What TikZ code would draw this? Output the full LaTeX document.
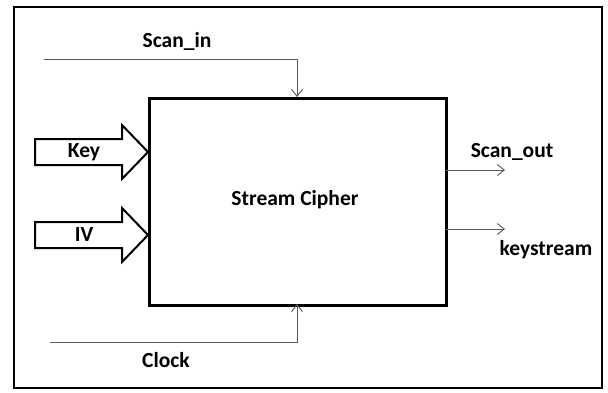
\documentclass[tikz,border=0pt]{standalone}
\usepackage{fontspec}
\setmainfont{Carlito}
\usetikzlibrary{arrows.meta}
\begin{document}
\begin{tikzpicture}[x=1pt,y=-1pt,
  lbl/.style={font=\fontsize{21.5}{25}\selectfont\bfseries, inner sep=0pt, text=black},
  thinarrow/.style={draw=black!65, line width=0.9pt, -{Straight Barb[length=7pt,width=11pt]}},
  frame/.style={draw=black, line width=2.8pt},
  blockarrow/.style={draw=black, line width=2pt, fill=white, line join=miter}]
\useasboundingbox (0,0) rectangle (608,392);
\fill[white] (0,0) rectangle (608,392);
\draw[frame] (14,7) rectangle (602,388);
\node[frame, minimum width=297pt, minimum height=207pt, inner sep=0pt, anchor=north west] (sc) at (148,97) {};
\node[lbl] (sclabel) at (295,200) {Stream Cipher};
% Scan_in
\coordinate (sin) at (44,59);
\coordinate (sintop) at (297,97);
\draw[thinarrow] (sin) -| (sintop);
\node[lbl] (scanin) at (177,41) {Scan\_in};
% Clock
\coordinate (clk) at (50,342);
\coordinate (clkbot) at (297,304);
\draw[thinarrow] (clk) -| (clkbot);
\node[lbl] (clock) at (166,360) {Clock};
% outputs
\coordinate (so) at (445,170);
\coordinate (soend) at (505,170);
\draw[thinarrow] (so) -- (soend);
\node[lbl] (scanout) at (512,152) {Scan\_out};
\coordinate (ks) at (445,229);
\coordinate (ksend) at (505,229);
\draw[thinarrow] (ks) -- (ksend);
\node[lbl] (keystream) at (546,250) {keystream};
% block arrows
\draw[blockarrow] (35,139) -- (122,139) -- (122,125) -- (148,152) -- (122,179) -- (122,165) -- (35,165) -- cycle;
\node[lbl] (key) at (84,152) {Key};
\draw[blockarrow] (35,222) -- (122,222) -- (122,208) -- (148,235) -- (122,262) -- (122,248) -- (35,248) -- cycle;
\node[lbl] (iv) at (84,235) {IV};
\end{tikzpicture}
\end{document}
